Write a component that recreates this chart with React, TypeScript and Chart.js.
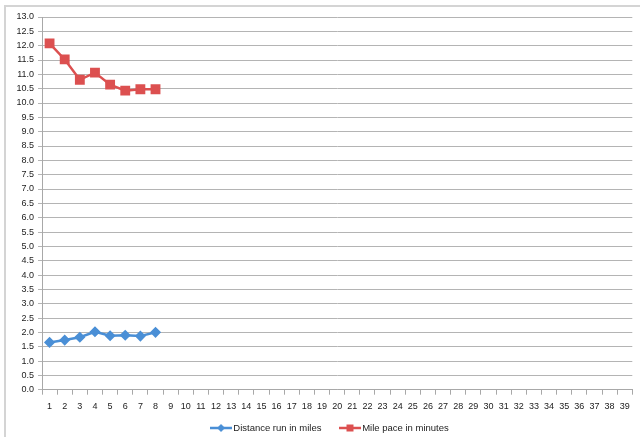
import React, { useEffect, useRef } from "react";
import { Chart, registerables } from "chart.js";

Chart.register(...registerables);

const categories = [
  "1", "2", "3", "4", "5", "6", "7", "8", "9", "10",
  "11", "12", "13", "14", "15", "16", "17", "18", "19", "20",
  "21", "22", "23", "24", "25", "26", "27", "28", "29", "30",
  "31", "32", "33", "34", "35", "36", "37", "38", "39",
];
const distanceMiles = [1.65, 1.73, 1.83, 2.02, 1.88, 1.9, 1.87, 2.0];
const paceMinutes = [12.08, 11.52, 10.81, 11.06, 10.64, 10.43, 10.48, 10.48];
const seriesNames = ["Distance run in miles", "Mile pace in minutes"];

const BLUE = "#4a8fd6";
const RED = "#dc5050";
const GRID = "#b4b4b4";
const AXIS = "#a8a8a8";
const FONT = "'Liberation Sans', Arial, Helvetica, sans-serif";

function makeLegendIcon(color: string, style: "diamond" | "square") {
  const c = document.createElement("canvas");
  c.width = 22;
  c.height = 10;
  const ctx = c.getContext("2d")!;
  ctx.strokeStyle = color;
  ctx.lineWidth = 2.5;
  ctx.beginPath();
  ctx.moveTo(0, 5);
  ctx.lineTo(22, 5);
  ctx.stroke();
  ctx.fillStyle = color;
  ctx.beginPath();
  if (style === "diamond") {
    ctx.moveTo(11, 1);
    ctx.lineTo(15, 5);
    ctx.lineTo(11, 9);
    ctx.lineTo(7, 5);
    ctx.closePath();
  } else {
    ctx.rect(7.5, 1.5, 7, 7);
  }
  ctx.fill();
  return c;
}

// shifts the bottom legend into place after layout (legend row centre / offset)
const legendShift = {
  id: "legendShift",
  afterLayout(chart: any) {
    const lg = chart.legend;
    if (!lg) return;
    const pad = lg.options.labels.padding;
    const fs = lg.options.labels.font.size;
    const dy = 428 - (lg.top + pad + fs / 2);
    lg.top += dy;
    lg.bottom += dy;
    lg.left -= 6;
    lg.right -= 6;
  },
};

export default function App() {
  const ref = useRef<HTMLCanvasElement | null>(null);

  useEffect(() => {
    if (!ref.current) return;
    const icons = [makeLegendIcon(BLUE, "diamond"), makeLegendIcon(RED, "square")];
    const chart = new Chart(ref.current, {
      type: "line",
      data: {
        labels: categories,
        datasets: [
          {
            label: seriesNames[0],
            data: distanceMiles,
            borderColor: BLUE,
            backgroundColor: BLUE,
            borderWidth: 2.5,
            pointStyle: "rectRot",
            pointRadius: 3.8,
            pointHoverRadius: 3.8,
            tension: 0,
          },
          {
            label: seriesNames[1],
            data: paceMinutes,
            borderColor: RED,
            backgroundColor: RED,
            borderWidth: 2.5,
            pointStyle: "rect",
            pointRadius: 5.2,
            pointHoverRadius: 5.2,
            tension: 0,
          },
        ],
      },
      plugins: [legendShift],
      options: {
        animation: false,
        responsive: false,
        maintainAspectRatio: false,
        layout: { padding: { left: 0, right: 6, top: 17, bottom: -21 } },
        font: { family: FONT },
        scales: {
          x: {
            type: "category",
            offset: true,
            grid: {
              display: true,
              drawOnChartArea: false,
              drawTicks: true,
              tickLength: 5,
              offset: true,
              color: AXIS,
            },
            border: { display: true, color: AXIS, width: 1 },
            ticks: {
              color: "#222",
              font: { family: FONT, size: 9 },
              padding: 6,
              maxRotation: 0,
              autoSkip: false,
            },
          },
          y: {
            min: 0,
            max: 13,
            grid: {
              color: GRID,
              tickLength: 4,
              drawTicks: true,
            },
            border: { display: true, color: AXIS, width: 1 },
            ticks: {
              stepSize: 0.5,
              autoSkip: false,
              color: "#222",
              font: { family: FONT, size: 9 },
              padding: 4,
              callback: (v: any) => Number(v).toFixed(1),
            },
            afterFit: (scale: any) => {
              scale.width = 42;
            },
          },
        },
        plugins: {
          tooltip: { enabled: false },
          legend: {
            position: "bottom",
            fullSize: false,
            labels: {
              usePointStyle: true,
              pointStyleWidth: 15,
              padding: 21,
              color: "#222",
              font: { family: FONT, size: 9.5 },
              generateLabels: (ch: any) =>
                ch.data.datasets.map((ds: any, i: number) => ({
                  text: ds.label,
                  fillStyle: ds.borderColor,
                  strokeStyle: ds.borderColor,
                  lineWidth: 0,
                  pointStyle: icons[i],
                  hidden: false,
                  datasetIndex: i,
                  fontColor: "#222",
                })),
            },
          },
        },
      },
    });
    return () => chart.destroy();
  }, []);

  return (
    <div
      style={{
        position: "fixed",
        left: 0,
        top: 0,
        width: 640,
        height: 437,
        background: "#fff",
        overflow: "hidden",
      }}
    >
      <div
        style={{
          position: "absolute",
          left: 4,
          top: 5,
          width: 700,
          height: 500,
          borderLeft: "2px solid #d4d4d4",
          borderTop: "2px solid #d4d4d4",
          boxSizing: "border-box",
        }}
      />
      <canvas
        ref={ref}
        width={640}
        height={437}
        style={{ position: "absolute", left: 0, top: 0, width: 640, height: 437 }}
      />
    </div>
  );
}
